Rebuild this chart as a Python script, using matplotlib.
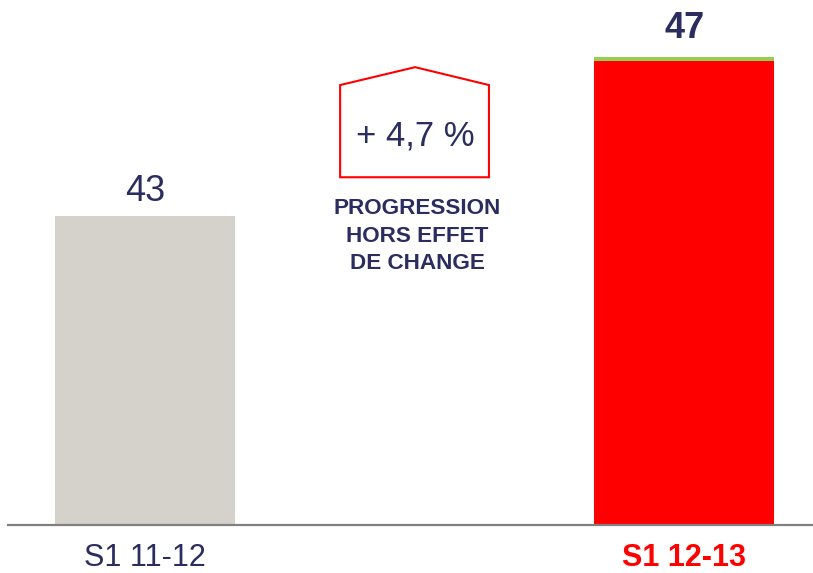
import matplotlib
matplotlib.use("Agg")
import matplotlib.pyplot as plt
from matplotlib.patches import Polygon

plt.rcParams["font.family"] = ["Liberation Sans", "DejaVu Sans"]

periods = ["S1 11-12", "S1 12-13"]
values = [43, 47]
fx_part = [0.0, 0.1]          # thin green cap on the second bar
bar_colors = ["#D4D2CA", "#FF0000"]
label_colors = ["#2B2D5E", "#FF0000"]
growth_text = "+ 4,7 %"
note_lines = "PROGRESSION\nHORS EFFET\nDE CHANGE"

NAVY = "#2B2D5E"
RED = "#FF0000"
GREEN = "#92D050"

fig = plt.figure(figsize=(8.13, 5.73), dpi=100)
ax = fig.add_axes([8/813, 48/573, 805/813, 525/573])

x = [0, 1]
base = [v - f for v, f in zip(values, fx_part)]
ax.bar(x, base, width=0.334, color=bar_colors, bottom=0)
ax.bar(x, fx_part, width=0.334, bottom=base, color=GREEN)
ax.set_ylim(35.23, 48.44)
ax.set_xlim(-0.254, 1.239)

# value labels
ax.text(0, values[0] + 0.17, "43", ha="center", va="bottom", fontsize=26, color=NAVY)
ax.text(1, values[1] + 0.27, "47", ha="center", va="bottom", fontsize=26,
        fontweight="bold", color=NAVY)

# house-shaped growth badge
house = Polygon([(0.362, 43.98), (0.362, 46.30), (0.501, 46.75),
                 (0.638, 46.30), (0.638, 43.98)], closed=True,
                fill=False, edgecolor=RED, lw=1.5, zorder=3)
ax.add_patch(house)
ax.text(0.501, 45.02, growth_text, ha="center", va="center", fontsize=25, color=NAVY)
ax.text(0.505, 42.50, note_lines, ha="center", va="center", fontsize=16.2,
        fontweight="bold", color=NAVY, linespacing=1.4)

# axis styling
for s in ["top", "right", "left"]:
    ax.spines[s].set_visible(False)
ax.spines["bottom"].set_color("#808080")
ax.spines["bottom"].set_linewidth(1.6)
ax.set_yticks([])
ax.set_xticks(x)
ax.set_xticklabels(periods, fontsize=22)
ax.tick_params(axis="x", length=0, pad=13)
for lbl, c in zip(ax.get_xticklabels(), label_colors):
    lbl.set_color(c)
ax.get_xticklabels()[1].set_fontweight("bold")

fig.savefig("out.png", dpi=100)
